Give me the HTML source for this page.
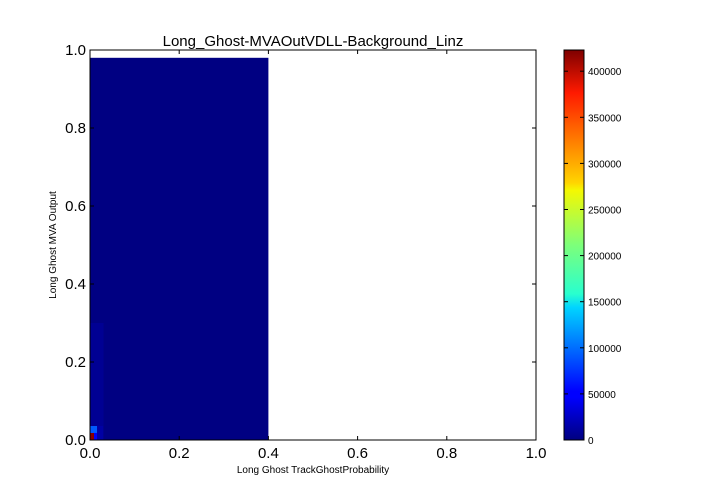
<!DOCTYPE html>
<html><head><meta charset="utf-8"><style>
body{margin:0;background:#fff;}
svg{display:block;font-family:"Liberation Sans","DejaVu Sans",sans-serif;}
</style></head><body>
<svg id="c" width="720" height="504" viewBox="0 0 720 504">
<defs>
<linearGradient id="jet" x1="0" y1="1" x2="0" y2="0">
<stop offset="0" stop-color="#00007f"/><stop offset="0.11" stop-color="#0000ff"/>
<stop offset="0.125" stop-color="#0000ff"/><stop offset="0.34" stop-color="#00d4ff"/>
<stop offset="0.375" stop-color="#29ffce"/><stop offset="0.5" stop-color="#7dff7a"/>
<stop offset="0.64" stop-color="#f4f802"/><stop offset="0.66" stop-color="#ffd400"/>
<stop offset="0.89" stop-color="#ff1a00"/><stop offset="1" stop-color="#7f0000"/>
</linearGradient>
</defs>
<rect width="720" height="504" fill="#fff"/>
<g id="cells"></g>
<g id="axes"></g>
</svg>
<script>
// heatmap cells: [x0, x1, y0, y1] in data units, with counts
const cellX0 = [0.0, 0.0, 0.0, 0.009, 0.0, 0.016, 0.0];
const cellX1 = [0.4, 0.016, 0.009, 0.016, 0.016, 0.03, 0.03];
const cellY0 = [0.0, 0.0, 0.0, 0.0, 0.018, 0.0, 0.036];
const cellY1 = [0.98, 0.018, 0.018, 0.018, 0.036, 0.3, 0.3];
const cellValues = [1000, 60000, 420000, 50000, 90000, 15000, 8000];
const xTicks = [0.0, 0.2, 0.4, 0.6, 0.8, 1.0];
const yTicks = [0.0, 0.2, 0.4, 0.6, 0.8, 1.0];
const cbTicks = [0, 50000, 100000, 150000, 200000, 250000, 300000, 350000, 400000];
const cbMax = 423000;

const L=90,R=536,T=50,B=440;
const sx=v=>L+(R-L)*v, sy=v=>B-(B-T)*v;
const NS="http://www.w3.org/2000/svg";
function mk(tag,attrs,parent,text){const e=document.createElementNS(NS,tag);for(const k in attrs)e.setAttribute(k,attrs[k]);if(text!==undefined)e.textContent=text;parent.appendChild(e);return e;}
function jet(t){t=Math.max(0,Math.min(1,t));
 const f=(x)=>Math.max(0,Math.min(1,x));
 const r=f(1.5-Math.abs(4*t-3)),g=f(1.5-Math.abs(4*t-2)),b=f(1.5-Math.abs(4*t-1));
 return `rgb(${Math.round(r*255)},${Math.round(g*255)},${Math.round(b*255)})`;}
const cg=document.getElementById('cells'), ax=document.getElementById('axes'), svg=document.getElementById('c');
for(let i=0;i<cellValues.length;i++){
 const r=mk('rect',{x:sx(cellX0[i]),y:sy(cellY1[i]),width:sx(cellX1[i])-sx(cellX0[i]),height:sy(cellY0[i])-sy(cellY1[i]),fill:jet(cellValues[i]/cbMax)},cg);
 
 
}
const frame=mk('rect',{x:L,y:T,width:R-L,height:B-T,fill:'none',stroke:'#000','stroke-width':1},ax);


xTicks.forEach(v=>{const x=sx(v);
 mk('line',{x1:x,y1:B,x2:x,y2:B-4,stroke:'#000'},ax);mk('line',{x1:x,y1:T,x2:x,y2:T+4,stroke:'#000'},ax);
 const t=mk('text',{x:x,y:B+18,'font-size':15,'text-anchor':'middle'},ax,v.toFixed(1));
 
 });
yTicks.forEach(v=>{const y=sy(v);
 mk('line',{x1:L,y1:y,x2:L+4,y2:y,stroke:'#000'},ax);mk('line',{x1:R,y1:y,x2:R-4,y2:y,stroke:'#000'},ax);
 const t=mk('text',{x:L-4,y:y+5,'font-size':15,'text-anchor':'end'},ax,v.toFixed(1));
 
 });
let t=mk('text',{x:313,y:46,'font-size':15,'text-anchor':'middle'},ax,'Long_Ghost-MVAOutVDLL-Background_Linz');


t=mk('text',{x:313,y:473,'font-size':10,'text-anchor':'middle'},ax,'Long Ghost TrackGhostProbability');


t=mk('text',{x:56,y:245,'font-size':10,'text-anchor':'middle',transform:'rotate(-90 56 245)'},ax,'Long Ghost MVA Output');


// colorbar
const CL=564,CR=584;
const cb=mk('rect',{x:CL,y:T,width:CR-CL,height:B-T,fill:'url(#jet)',stroke:'#000','stroke-width':1},ax);


const cy=v=>B-(B-T)*v/cbMax;
cbTicks.forEach(v=>{const y=cy(v);
 mk('line',{x1:CR,y1:y,x2:CR-4,y2:y,stroke:'#000'},ax);mk('line',{x1:CL,y1:y,x2:CL+4,y2:y,stroke:'#000'},ax);
 const l=mk('text',{x:CR+4,y:y+4,'font-size':10},ax,String(v));
 
 });
</script>
</body></html>
